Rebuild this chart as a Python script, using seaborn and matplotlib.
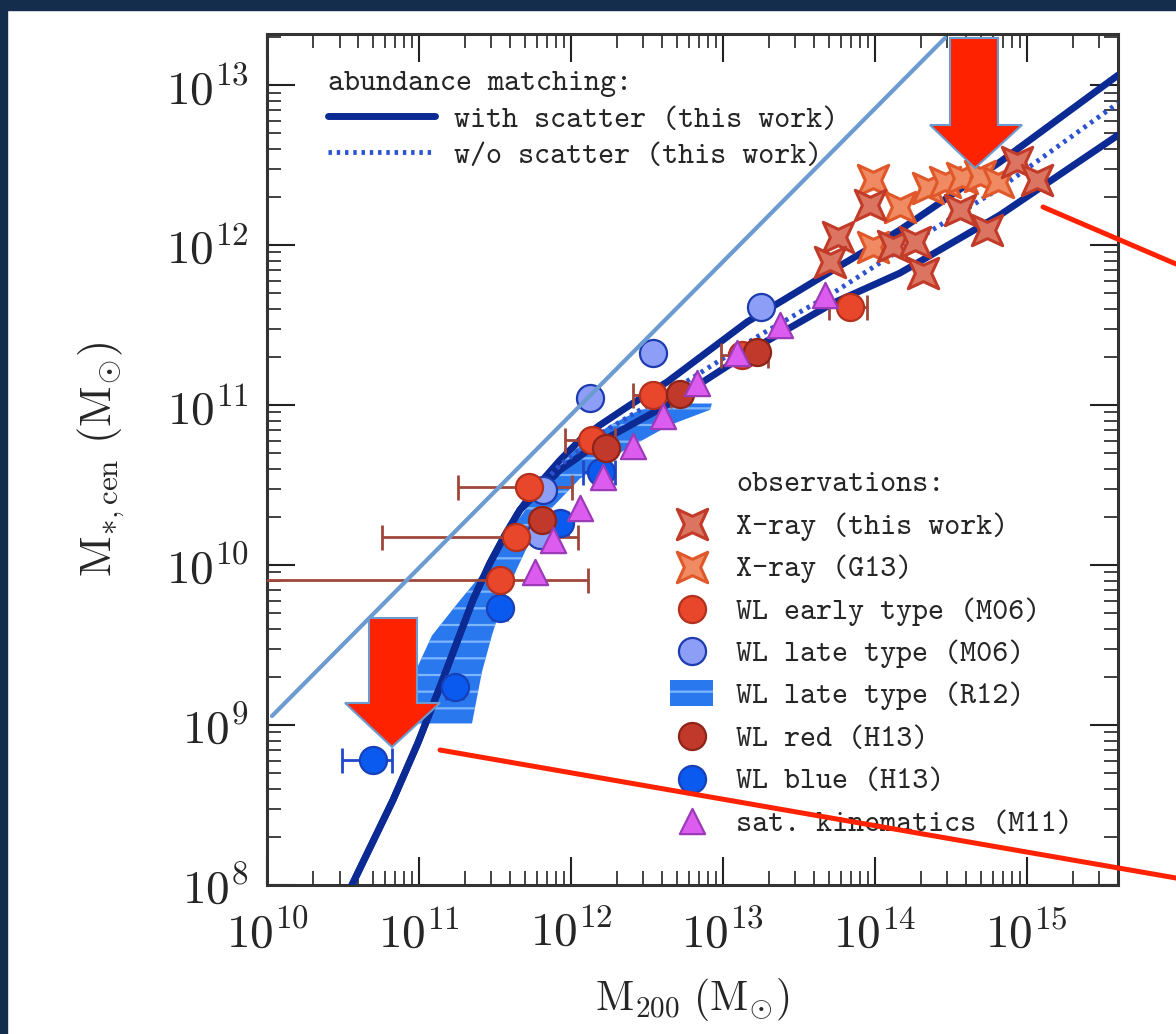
import numpy as np
import pandas as pd
import matplotlib
matplotlib.use("Agg")
import matplotlib.pyplot as plt
import seaborn as sns
from matplotlib.path import Path
from matplotlib.lines import Line2D
from matplotlib.patches import Polygon, Rectangle
from matplotlib.font_manager import FontProperties

# ---------------------------------------------------------------- data (log10 masses)
# abundance matching with scatter: upper and lower branches
am_hi_logm = [10.50, 10.559, 10.829, 10.993, 11.138, 11.355, 11.467, 11.566, 11.664, 11.796,
              11.928, 12.059, 12.191, 12.388, 12.632, 13.158, 13.724, 14.164, 14.822, 15.60]
am_hi_logms = [7.88, 8.00, 8.531, 8.888, 9.238, 9.781, 10.0125, 10.1875, 10.344, 10.5125,
               10.656, 10.781, 10.875, 11.00, 11.144, 11.519, 11.844, 12.094, 12.519, 13.0625]
am_lo_logm = [10.50, 10.559, 10.829, 10.993, 11.138, 11.355, 11.467, 11.566, 11.664, 11.796,
              11.928, 12.191, 12.632, 13.243, 13.724, 14.164, 14.822, 15.60]
am_lo_logms = [7.88, 8.00, 8.531, 8.888, 9.238, 9.781, 10.0125, 10.1875, 10.344, 10.469,
               10.594, 10.769, 11.00, 11.375, 11.6375, 11.825, 12.1875, 12.6875]
# abundance matching without scatter
am_ns_logm = [11.796, 11.928, 12.191, 12.632, 13.243, 13.724, 14.164, 14.822, 15.60]
am_ns_logms = [10.49, 10.625, 10.82, 11.07, 11.4375, 11.70, 11.969, 12.356, 12.888]

# WL late type (R12) band: M200 range at each stellar mass
r12_logms = [9.01, 9.33, 9.56, 9.78, 9.99, 10.28, 10.54, 10.72, 10.875, 10.97, 11.01]
r12_logm_lo = [10.993, 10.974, 11.086, 11.270, 11.454, 11.651, 11.849, 12.026, 12.257, 12.454, 12.717]
r12_logm_hi = [11.349, 11.414, 11.480, 11.553, 11.651, 11.796, 12.059, 12.355, 12.651, 12.914, 12.928]

# X-ray (this work)
xr_logm = [13.757, 13.704, 13.967, 14.118, 14.263, 14.316, 14.559, 14.737, 14.934, 15.066]
xr_logms = [12.05, 11.894, 12.25, 11.994, 12.019, 11.825, 12.219, 12.094, 12.519, 12.406]
# X-ray (G13)
g13_logm = [13.987, 14.164, 14.349, 14.461, 14.572, 14.691, 14.809, 13.987]
g13_logms = [12.406, 12.2375, 12.356, 12.394, 12.419, 12.431, 12.394, 11.9875]

# WL early type (M06)
m06e_logm = [11.533, 11.638, 11.724, 12.138, 12.539, 13.125, 13.836]
m06e_logms = [9.906, 10.175, 10.4875, 10.781, 11.0625, 11.3125, 11.6125]
m06e_err_lo = [9.70, 10.757, 11.257, 11.96, 12.41, 12.99, 13.70]
m06e_err_hi = [12.112, 12.046, 12.007, 12.29, 12.66, 13.30, 13.95]
# WL late type (M06)
m06l_logm = [11.796, 11.816, 12.125, 12.539, 13.25]
m06l_logms = [10.1875, 10.469, 11.044, 11.325, 11.6125]
# WL red (H13)
h13r_logm = [11.809, 12.230, 12.717, 13.224]
h13r_logms = [10.281, 10.731, 11.069, 11.331]
# WL blue (H13)
h13b_logm = [10.697, 11.237, 11.533, 11.928, 12.197]
h13b_logms = [8.781, 9.2375, 9.731, 10.2625, 10.581]
h13b_err_lo = [10.493, 11.18, 11.48, 11.87, 12.079]
h13b_err_hi = [10.822, 11.29, 11.58, 11.98, 12.29]
# satellite kinematics (M11)
m11_logm = [11.763, 11.882, 12.059, 12.211, 12.408, 12.605, 12.829, 13.092, 13.375, 13.671]
m11_logms = [9.956, 10.156, 10.356, 10.55, 10.744, 10.931, 11.1375, 11.325, 11.50, 11.6875]

xtick_vals = [10, 11, 12, 13, 14, 15]
ytick_vals = [8, 9, 10, 11, 12, 13]
xtick_labels = [r"$10^{10}$", r"$10^{11}$", r"$10^{12}$", r"$10^{13}$", r"$10^{14}$", r"$10^{15}$"]
ytick_labels = [r"$10^{8}$", r"$10^{9}$", r"$10^{10}$", r"$10^{11}$", r"$10^{12}$", r"$10^{13}$"]

# ---------------------------------------------------------------- style
sns.set_theme(style="ticks")
plt.rcParams.update({
    "font.family": ["cmr10", "DejaVu Sans"],
    "mathtext.fontset": "cm",
    "axes.unicode_minus": False,
    "axes.formatter.use_mathtext": True,
    "hatch.linewidth": 1.6,
})

W, H = 1176, 1034
fig = plt.figure(figsize=(W / 100, H / 100), dpi=100)
fig.patch.set_facecolor("white")
ax = fig.add_axes([267 / W, 149 / H, 851 / W, 851 / H])
ax.set_xscale("log")
ax.set_yscale("log")
ax.set_xlim(1e10, 10 ** 15.6)
ax.set_ylim(1e8, 10 ** 13.32)

p = lambda v: 10 ** np.asarray(v, dtype=float)

NAVY = "#0c2a94"
DOT = "#2c52d2"
tt = FontProperties(family="cmtt10", size=22)

# WL late type (R12) band
band = ax.fill_betweenx(p(r12_logms), p(r12_logm_lo), p(r12_logm_hi),
                        facecolor="#2a78ee", edgecolor="#7db6ff", hatch="-",
                        linewidth=0, zorder=2, label="WL late type (R12)")

# abundance matching curves
sns.lineplot(x=p(am_hi_logm), y=p(am_hi_logms), ax=ax, color=NAVY, lw=5,
             estimator=None, sort=False, zorder=3)
sns.lineplot(x=p(am_lo_logm), y=p(am_lo_logms), ax=ax, color=NAVY, lw=5,
             estimator=None, sort=False, zorder=3)
sns.lineplot(x=p(am_ns_logm), y=p(am_ns_logms), ax=ax, color=DOT, lw=3.5,
             linestyle=(0, (0.7, 1.0)), estimator=None, sort=False, zorder=3)

# error bars
m06e_x = p(m06e_logm)
ax.errorbar(m06e_x, p(m06e_logms),
            xerr=[m06e_x - p(m06e_err_lo), p(m06e_err_hi) - m06e_x],
            fmt="none", ecolor="#a0473b", elinewidth=2, capsize=9, capthick=2, zorder=4)
h13b_x = p(h13b_logm)
ax.errorbar(h13b_x, p(h13b_logms),
            xerr=[h13b_x - p(h13b_err_lo), p(h13b_err_hi) - h13b_x],
            fmt="none", ecolor="#2048c8", elinewidth=2, capsize=9, capthick=2, zorder=4)

# four-pointed star marker
ang = np.arange(8) * np.pi / 4 + np.pi / 4
rad = np.where(np.arange(8) % 2 == 0, 1.0, 0.38)
star_verts = np.column_stack([rad * np.cos(ang), rad * np.sin(ang)])
star = Path(np.vstack([star_verts, star_verts[:1]]), closed=True)

def scat(lx, ly, marker, s, face, edge, label, z, lw=1.6):
    sns.scatterplot(x=p(lx), y=p(ly), ax=ax, marker=marker, s=s, color=face,
                    edgecolor=edge, linewidth=lw, zorder=z, label=label, legend=False)

scat(m06l_logm, m06l_logms, "o", 380, "#8c9ef5", "#1c3bb0", "WL late type (M06)", 5.0)
scat(h13b_logm, h13b_logms, "o", 380, "#0a5af0", "#1840b8", "WL blue (H13)", 5.1)
scat(m06e_logm, m06e_logms, "o", 380, "#e8472c", "#b3301c", "WL early type (M06)", 5.2)
scat(h13r_logm, h13r_logms, "o", 380, "#c0392b", "#8e2418", "WL red (H13)", 5.3)
scat(m11_logm, m11_logms, "^", 330, "#dd5cf0", "#9c3ab8", "sat. kinematics (M11)", 5.4)
scat(g13_logm, g13_logms, star, 480, "#f08a62", "#e0582a", "X-ray (G13)", 5.5, lw=2.2)
scat(xr_logm, xr_logms, star, 480, "#dc7462", "#c23a28", "X-ray (this work)", 5.6, lw=2.2)

# axes styling
ax.set_xticks(p(xtick_vals), labels=xtick_labels)
ax.set_yticks(p(ytick_vals), labels=ytick_labels)
ax.tick_params(which="both", direction="in", top=True, right=True, color="#222222")
ax.tick_params(which="major", length=20, width=1.5, labelsize=34)
ax.tick_params(which="minor", length=10, width=1.2)
ax.tick_params(axis="x", which="major", pad=18)
ax.tick_params(axis="y", which="major", pad=13)
for s in ax.spines.values():
    s.set_linewidth(2.2)
    s.set_color("#333333")
ax.set_xlabel(r"$\mathrm{M}_{\mathbf{200}}\ (\mathrm{M}_{\odot})$", fontsize=30, labelpad=14)
ax.set_ylabel(r"$\mathrm{M}_{*,\mathrm{cen}}\ (\mathrm{M}_{\odot})$", fontsize=32, labelpad=28)
ax.grid(False)

# legends
h_solid = Line2D([], [], color=NAVY, lw=5)
h_dot = Line2D([], [], color=DOT, lw=3.5, linestyle=(0, (0.7, 1.0)))
leg1 = ax.legend([h_solid, h_dot], ["with scatter (this work)", "w/o scatter (this work)"],
                 title="abundance matching:", title_fontproperties=tt, prop=tt,
                 alignment="left", loc="upper left", bbox_to_anchor=(0.072, 0.956),
                 frameon=False, handlelength=3.5, handletextpad=0.6, borderpad=0,
                 borderaxespad=0, labelspacing=0.26)
ax.add_artist(leg1)

handles, labels = ax.get_legend_handles_labels()
lookup = dict(zip(labels, handles))
order = ["X-ray (this work)", "X-ray (G13)", "WL early type (M06)", "WL late type (M06)",
         "WL late type (R12)", "WL red (H13)", "WL blue (H13)", "sat. kinematics (M11)"]
blank = Line2D([], [], linestyle="none")
ax.legend([blank] + [lookup[k] for k in order], ["observations:"] + order, prop=tt,
          loc="upper left", bbox_to_anchor=(0.474, 0.490), frameon=False,
          handlelength=1.4, handleheight=0.9, handletextpad=0.75, borderpad=0,
          borderaxespad=0, labelspacing=0.40)

# ---------------------------------------------------------------- overlays in figure pixels
def fx(x):
    return np.asarray(x) / W

def fy(y):
    return 1 - np.asarray(y) / H

NAVY_FRAME = "#142d4c"
fig.add_artist(Rectangle((0, fy(10)), 1, 10 / H, transform=fig.transFigure,
                         color=NAVY_FRAME, zorder=-5))
fig.add_artist(Rectangle((0, 0), 7 / W, 1, transform=fig.transFigure,
                         color=NAVY_FRAME, zorder=-5))

fig.add_artist(Line2D(fx([272, 945]), fy([716, 38]), transform=fig.transFigure,
                      color="#6b9bd0", lw=3, zorder=10))

RED = "#ff2200"
fig.add_artist(Line2D(fx([1043, 1176]), fy([207, 264]), transform=fig.transFigure,
                      color=RED, lw=3.6, zorder=10))
fig.add_artist(Line2D(fx([440, 1176]), fy([750, 878]), transform=fig.transFigure,
                      color=RED, lw=3.6, zorder=10))

for xs, ys in [([950, 998, 998, 1022, 975, 930, 950], [38, 38, 125, 125, 168, 125, 125]),
               ([369, 417, 417, 440, 392, 345, 369], [618, 618, 703, 703, 747, 703, 703])]:
    fig.add_artist(Polygon(np.column_stack([fx(xs), fy(ys)]), closed=True,
                           transform=fig.transFigure, facecolor=RED,
                           edgecolor="#6b9bd0", lw=1.5, zorder=11))

fig.savefig("out.png", dpi=100, facecolor="white")
